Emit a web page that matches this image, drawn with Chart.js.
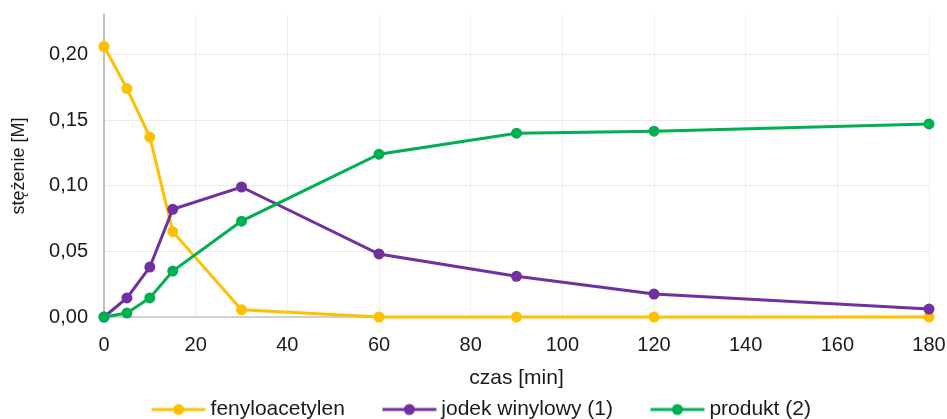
<!DOCTYPE html>
<html>
<head>
<meta charset="utf-8">
<script src="https://cdn.jsdelivr.net/npm/chart.js@4"></script>
<style>
  html, body { margin: 0; padding: 0; background: #fff; }
  #wrap { width: 947px; height: 419px; }
</style>
</head>
<body>
<div id="wrap"><canvas id="grafico"></canvas></div>
<script>
// Dane
const czas = [0, 5, 10, 15, 30, 60, 90, 120, 180];
const fenyloacetylen = [0.206, 0.174, 0.137, 0.065, 0.0055, 0, 0, 0, 0];
const jodekWinylowy = [0, 0.0145, 0.038, 0.082, 0.099, 0.048, 0.031, 0.0175, 0.006];
const produkt = [0, 0.003, 0.0145, 0.035, 0.073, 0.124, 0.140, 0.1415, 0.147];
const yTicks = [0, 0.05, 0.10, 0.15, 0.20];

const nazwy = ["fenyloacetylen", "jodek winylowy (1)", "produkt (2)"];
const kolory = ["#FFC000", "#7030A0", "#00B050"];
const FONT = "'Liberation Sans', Arial, sans-serif";

function toPoints(values) {
  return czas.map((t, i) => ({ x: t, y: values[i] }));
}

// Ikona legendy: linia z kropką (pusty margines z lewej)
function legendIcon(color) {
  const c = document.createElement("canvas");
  c.width = 76;
  c.height = 14;
  const g = c.getContext("2d");
  g.strokeStyle = color;
  g.lineWidth = 3;
  g.beginPath();
  g.moveTo(21.5, 7);
  g.lineTo(75.5, 7);
  g.stroke();
  g.fillStyle = color;
  g.beginPath();
  g.arc(48.5, 7, 5.5, 0, Math.PI * 2);
  g.fill();
  return c;
}

// Mniejsza wysokość legendy
const legendFix = {
  id: "legendFix",
  beforeInit(chart) {
    const legend = chart.legend;
    if (!legend) return;
    const fit = legend.fit;
    legend.fit = function () {
      fit.call(this);
      this.height = 42;
    };
  },
};

const serie = [fenyloacetylen, jodekWinylowy, produkt];
const datasets = serie.map((vals, i) => ({
  label: nazwy[i],
  data: toPoints(vals),
  borderColor: kolory[i],
  backgroundColor: kolory[i],
  borderWidth: 3,
  pointRadius: 5.5,
  pointHoverRadius: 5.5,
  pointBorderWidth: 0,
  tension: 0,
  clip: false,
  order: 2 - i,
}));

const ctx = document.getElementById("grafico").getContext("2d");
new Chart(ctx, {
  type: "line",
  data: { datasets },
  plugins: [legendFix],
  options: {
    responsive: true,
    maintainAspectRatio: false,
    animation: false,
    layout: { padding: { top: 0, right: 0, bottom: 0, left: 0 } },
    plugins: {
      tooltip: { enabled: false },
      legend: {
        position: "bottom",
        labels: {
          usePointStyle: true,
          pointStyleWidth: 64,
          padding: 22,
          color: "#1a1a1a",
          font: { family: FONT, size: 21 },
          generateLabels: (chart) =>
            chart.data.datasets.map((ds, i) => ({
              text: ds.label,
              fillStyle: ds.borderColor,
              strokeStyle: ds.borderColor,
              lineWidth: 0,
              pointStyle: legendIcon(ds.borderColor),
              fontColor: "#1a1a1a",
              hidden: false,
              datasetIndex: i,
            })),
        },
      },
    },
    scales: {
      x: {
        type: "linear",
        min: 0,
        max: 180,
        afterFit: (scale) => {
          scale.height = 60;
          scale.paddingLeft = 0;
          scale.paddingRight = 18;
        },
        ticks: {
          stepSize: 20,
          padding: 16,
          color: "#1a1a1a",
          font: { family: FONT, size: 20 },
        },
        grid: { color: "#efefef", lineWidth: 1, drawTicks: false },
        border: { color: "#d0d0d0", width: 2 },
        title: {
          display: true,
          text: "czas [min]",
          color: "#1a1a1a",
          font: { family: FONT, size: 21 },
          padding: { top: 8, bottom: -14 },
        },
      },
      y: {
        type: "linear",
        min: 0,
        max: 0.23,
        afterBuildTicks: (scale) => {
          scale.ticks = yTicks.map((v) => ({ value: v }));
        },
        afterFit: (scale) => {
          scale.width = 104;
          scale.paddingTop = 15;
          scale.paddingBottom = 0;
        },
        ticks: {
          padding: 16,
          color: "#1a1a1a",
          font: { family: FONT, size: 20 },
          callback: (v) => v.toFixed(2).replace(".", ","),
        },
        grid: { color: "#ebebeb", lineWidth: 1, drawTicks: false },
        border: { color: "#c0c0c0", width: 2 },
        title: {
          display: true,
          text: "stężenie [M]",
          color: "#1a1a1a",
          font: { family: FONT, size: 18 },
          padding: { top: 8, bottom: 0 },
        },
      },
    },
  },
});
</script>
</body>
</html>
